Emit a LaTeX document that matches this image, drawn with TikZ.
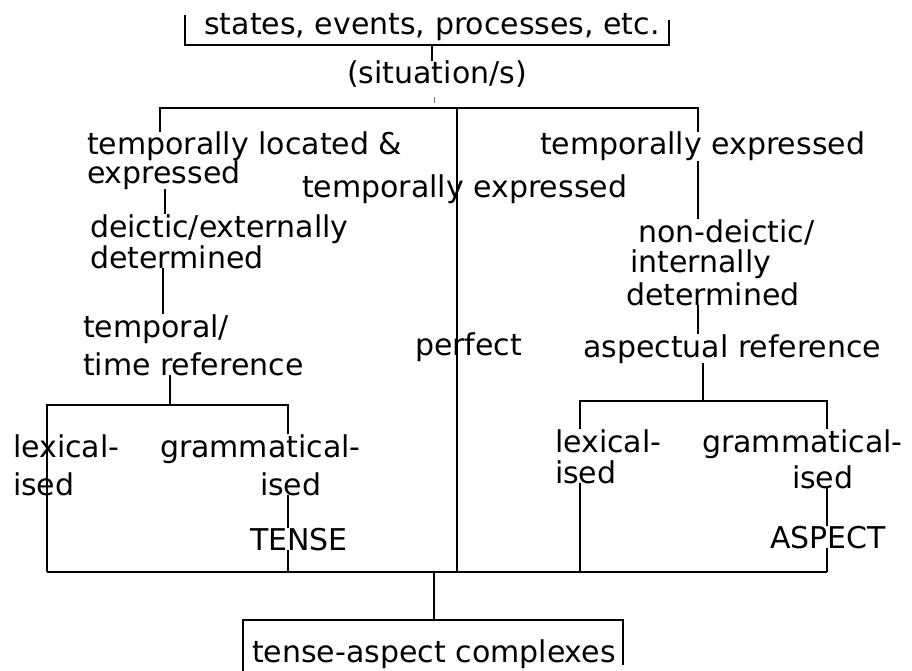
\documentclass[tikz,border=0pt]{standalone}
\usepackage{fontspec}
\setmainfont{DejaVu Sans}
\usetikzlibrary{calc}
\newcommand\dgfont{\fontsize{30pt}{36pt}\selectfont}
\begin{document}
\begin{tikzpicture}[x=1pt,y=-1pt,
  lbl/.style={inner sep=0pt, outer sep=0pt, font=\dgfont, anchor=base west},
  ctr/.style={lbl, anchor=base},
  link/.style={line width=1.8pt, line cap=butt}]
\path[use as bounding box, fill=white] (0,0) rectangle (912,671);

% labels (positions are baselines)
\node[ctr] (top) at (432,35) {states, events, processes, etc.};
\node[ctr] (sit) at (437,84) {(situation/s)};
\node[lbl] (tle1) at (87,155) {temporally located \&};
\node[lbl] (tle2) at (87,183) {expressed};
\node[lbl] (tem)  at (302,197) {temporally expressed};
\node[lbl] (ter)  at (540,155) {temporally expressed};
\node[lbl] (dei1) at (90,237) {deictic/externally};
\node[lbl] (dei2) at (90,268) {determined};
\node[lbl] (tmp1) at (83,337) {temporal/};
\node[lbl] (tmp2) at (83,375) {time reference};
\node[lbl] (perf) at (415,355) {perfect};
\node[lbl] (nd1)  at (638,242) {non-deictic/};
\node[lbl] (nd2)  at (630,272) {internally};
\node[lbl] (nd3)  at (626,305) {determined};
\node[lbl] (asp)  at (583,357) {aspectual reference};
\node[lbl] (lexL1) at (13,457) {lexical-};
\node[lbl] (lexL2) at (13,495) {ised};
\node[lbl] (grL1)  at (160,457) {grammatical-};
\node[lbl] (grL2)  at (260,495) {ised};
\node[lbl] (tense) at (250,550) {TENSE};
\node[lbl] (lexR1) at (555,452) {lexical-};
\node[lbl] (lexR2) at (555,483) {ised};
\node[lbl] (grR1)  at (702,452) {grammatical-};
\node[lbl] (grR2)  at (792,488) {ised};
\node[lbl] (aspect) at (770,548) {ASPECT};
\node[ctr] (tac) at (434,662) {tense-aspect complexes};

% columns and junctions of the tree
\coordinate (xL0) at (160,0);
\coordinate (xL1) at (165,0);
\coordinate (xL2) at (163,0);
\coordinate (xL3) at (170,0);
\coordinate (xLb) at (288,0);
\coordinate (xR0) at (698,0);
\coordinate (xR2) at (703,0);
\coordinate (xRa) at (580,0);
\coordinate (xRb) at (827,0);
\coordinate (jTop) at (457,108);
\coordinate (jL) at (170,405);
\coordinate (jR) at (703,401);
\coordinate (jBL) at (47,572);
\coordinate (jBR) at (827,572);

% open box round the top label
\draw[link] ($(top.base west)+(-19,-20)$) |- ($(top.base east)+(9,10)$) -- ++(0,-25);
\draw[link] ($(top.base)+(0,10)$) -- (sit.north -| top.base);
\draw[line width=1pt, gray] ($(sit.base)+(-3,13)$) -- ++(0,6);

% first split
\draw[link] (tle1.north -| xL0) |- (jTop) -| (ter.north -| xR0);
\draw[link] (jTop) -- (jTop |- jBL);
\draw[link] (ter.south -| xR0) -- (nd1.north -| xR0);

% left branch
\draw[link] (tle2.south -| xL1) -- (dei1.north -| xL1);
\draw[link] (dei2.south -| xL2) -- (tmp1.north -| xL2);
\draw[link] (tmp2.south -| xL3) -- (jL);
\draw[link] (grL1.north -| xLb) |- (jL) -| (jBL);
\draw[link] (grL2.south -| xLb) -- (tense.north -| xLb);
\draw[link] (tense.south -| xLb) -- (jBL -| xLb);

% right branch
\draw[link] (nd3.south -| xR0) -- (asp.north -| xR0);
\draw[link] (asp.south -| xR2) -- (jR);
\draw[link] (lexR1.north -| xRa) |- (jR) -| (grR1.north -| xRb);
\draw[link] (lexR2.south -| xRa) -- (jBL -| xRa);
\draw[link] (grR2.south -| xRb) -- (aspect.north -| xRb);
\draw[link] (aspect.south -| xRb) -- (jBR);

% bottom join and open box
\draw[link] (jBL) -- (jBR);
\draw[link] (jBL -| tac.base) -- ($(tac.base)+(0,-42)$);
\draw[link] ($(tac.base west)+(-9,15)$) |- ($(tac.base east)+(7,-42)$) -- ++(0,45);
\end{tikzpicture}
\end{document}
